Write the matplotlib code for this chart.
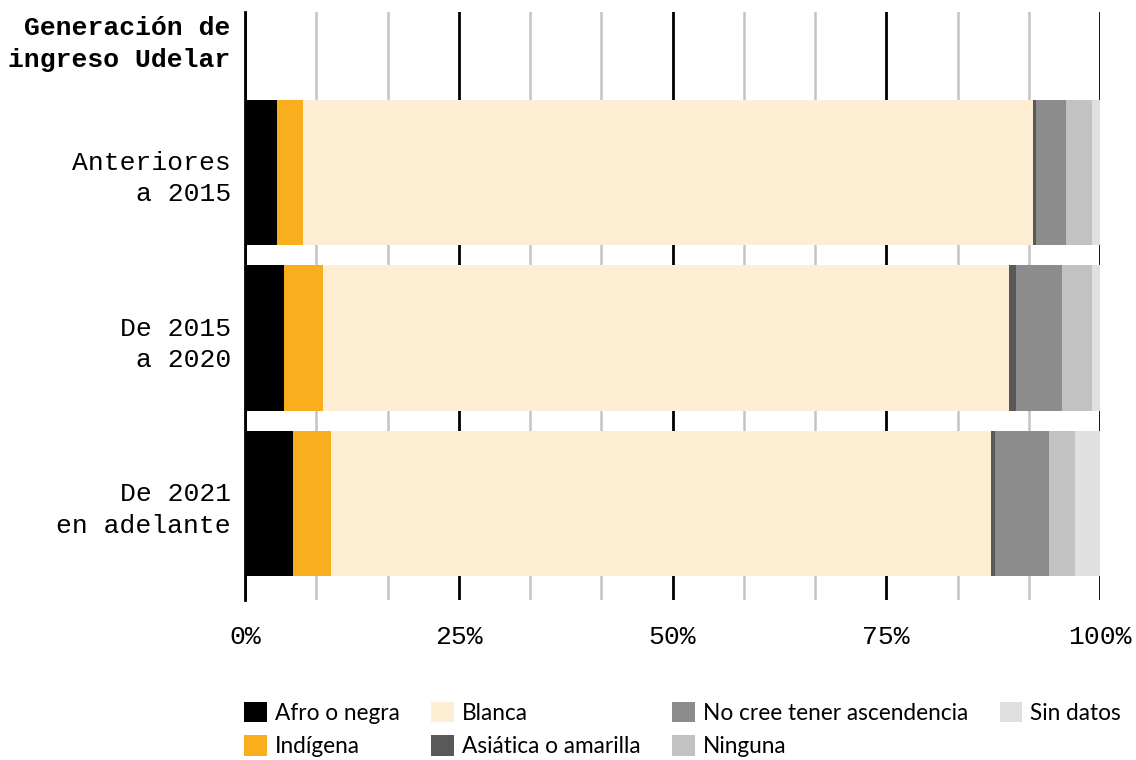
import matplotlib.pyplot as plt
import numpy as np

# Data (percent of each group)
groups = ["Anteriores\na 2015", "De 2015\na 2020", "De 2021\nen adelante"]
categories = ["Afro o negra", "Indígena", "Blanca", "Asiática o amarilla",
              "No cree tener ascendencia", "Ninguna", "Sin datos"]
afro = [3.7, 4.6, 5.6]
indigena = [3.1, 4.5, 4.5]
blanca = [85.4, 80.3, 77.2]
asiatica = [0.3, 0.8, 0.4]
no_cree = [3.5, 5.4, 6.3]
ninguna = [3.1, 3.5, 3.1]
sin_datos = [0.9, 0.9, 2.9]
series = [afro, indigena, blanca, asiatica, no_cree, ninguna, sin_datos]
colors = ["#000000", "#F9AE1E", "#FEEED4", "#595959", "#8C8C8C", "#C2C2C2", "#E0E0E2"]

mono = "Liberation Mono"

fig = plt.figure(figsize=(11.36, 7.6), dpi=100)
ax = fig.add_axes([245 / 1136, 1 - 600 / 760, 855 / 1136, 588 / 760])

y = np.arange(len(groups))
left = np.zeros(len(groups))
for name, vals, c in zip(categories, series, colors):
    ax.barh(y, vals, left=left, height=0.875, color=c, label=name, zorder=3)
    left += np.array(vals)

# gridlines
for v in np.arange(0, 101, 100 / 12):
    major = abs(v % 25) < 1e-6 or abs(v % 25 - 25) < 1e-6
    ax.axvline(v, color="black" if major else "#C4C4C4",
               lw=2 if major else 1.8, zorder=1 if not major else 2)

ax.set_xlim(0, 100)
ax.set_ylim(2.58, -0.966)
ax.set_xticks([0, 25, 50, 75, 100])
ax.set_xticklabels(["0%", "25%", "50%", "75%", "100%"], fontfamily=mono, fontsize=19)
ax.set_yticks(y)
ax.set_yticklabels(groups, fontfamily=mono, fontsize=19, linespacing=1.4)
ax.tick_params(axis="both", length=0)
ax.tick_params(axis="x", pad=18)
ax.tick_params(axis="y", pad=10)
for s in ["top", "right", "bottom"]:
    ax.spines[s].set_visible(False)
ax.spines["left"].set_linewidth(2)
ax.spines["left"].set_zorder(4)

fig.text(230 / 1136, 1 - 44 / 760, "Generación de\ningreso Udelar", ha="right", va="center",
         fontfamily=mono, fontweight="bold", fontsize=19, linespacing=1.4)

leg = fig.legend(loc="upper left", bbox_to_anchor=(235 / 1136, 1 - 693 / 760), ncol=4,
                 frameon=False, prop={"family": "Lato", "size": 16.3},
                 handlelength=1.0, handleheight=1.0, handletextpad=0.35,
                 columnspacing=1.4, labelspacing=0.5, borderaxespad=0)

fig.savefig("out.png", dpi=100)
